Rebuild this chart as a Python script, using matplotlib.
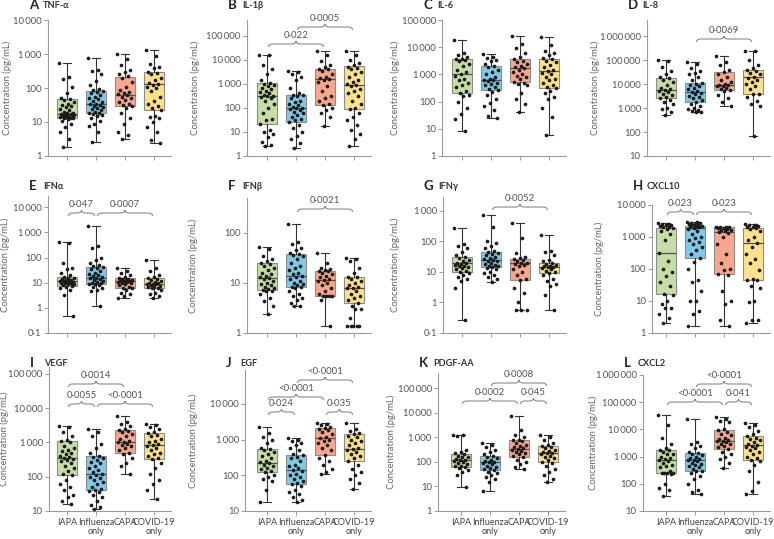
import matplotlib
matplotlib.use('Agg')
import matplotlib.pyplot as plt
import numpy as np
from matplotlib.path import Path
from matplotlib.patches import PathPatch
from matplotlib.ticker import FixedLocator, FuncFormatter, NullLocator

plt.rcParams['font.family'] = ['Lato', 'DejaVu Sans']

# ---------------- data ----------------
GROUPS = ['IAPA', 'Influenza\nonly', 'CAPA', 'COVID-19\nonly']
COLORS = ['#c6dea6', '#80cae8', '#f8a68c', '#fde28e']
LETTERS = ['A', 'B', 'C', 'D', 'E', 'F', 'G', 'H', 'I', 'J', 'K', 'L']
NAMES = ['TNF-α', 'IL-1β', 'IL-6', 'IL-8', 'IFNα', 'IFNβ', 'IFNγ', 'CXCL10',
         'VEGF', 'EGF', 'PDGF-AA', 'CXCL2']
YLABEL = 'Concentration (pg/mL)'

# box stats per group: [min, q1, median, q3, max]
TNF_BOX = [[1.8, 13, 17, 48, 540], [2.5, 18, 33, 83, 780], [3.1, 30, 62, 215, 1000], [2.4, 22, 130, 290, 1300]]
IL1B_BOX = [[2.7, 21, 316, 1070, 16000], [2.2, 27, 97, 330, 3300], [18, 134, 1600, 4100, 24000], [2.7, 91, 910, 5300, 24000]]
IL6_BOX = [[8.3, 200, 1030, 3600, 18000], [26, 270, 620, 2100, 5400], [40, 540, 1660, 3600, 26000], [5.9, 320, 1290, 3600, 24000]]
IL8_BOX = [[490, 2600, 5400, 18000, 96000], [660, 1780, 4600, 11000, 81000], [1180, 5500, 9400, 32000, 145000], [71, 3800, 20000, 40000, 250000]]
IFNA_BOX = [[0.47, 7.7, 12, 17, 400], [1.17, 8.6, 16, 43, 1850], [2.5, 5.9, 12, 15, 37], [2.5, 5.9, 9.3, 15, 78]]
IFNB_BOX = [[2.4, 7.2, 12.5, 25.5, 52], [3.4, 8.4, 14, 38, 150], [1.4, 5.6, 11.4, 17.4, 40], [1.4, 4.0, 8.1, 13.4, 32]]
IFNG_BOX = [[0.26, 10, 19, 31, 275], [4.8, 14, 24, 45, 750], [0.57, 5.6, 19, 26, 400], [0.57, 9.4, 14.5, 19, 155]]
CXCL10_BOX = [[2.05, 16.5, 310, 1970, 2700], [1.7, 217, 1900, 2200, 3000], [1.7, 71, 1400, 2000, 2100], [2.1, 46, 640, 1970, 2500]]
VEGF_BOX = [[15.6, 110, 350, 1070, 3100], [11.7, 42, 122, 415, 2500], [117, 500, 1020, 2350, 5900], [22, 320, 850, 1860, 3500]]
EGF_BOX = [[18, 120, 215, 530, 2300], [18, 56, 140, 370, 1080], [112, 380, 1080, 2050, 3000], [42, 255, 560, 1400, 2850]]
PDGF_BOX = [[9.6, 63, 118, 200, 1240], [6.3, 46, 95, 177, 560], [49, 150, 320, 770, 7600], [14.5, 100, 235, 440, 1240]]
CXCL2_BOX = [[35, 245, 760, 1780, 35000], [43, 285, 720, 1340, 24000], [380, 1940, 3900, 9600, 28000], [43, 760, 2700, 5600, 17000]]

# individual patient values per group (pg/mL)
TNF_PTS = [
    [540, 210, 190, 110, 70, 52, 48, 45, 40, 35, 32, 30, 27, 24, 22, 20, 19, 18, 17, 17, 16, 16, 15, 15, 14, 14, 14, 13, 13, 13, 12, 11, 9, 7, 5, 3.2, 1.8],
    [780, 350, 320, 250, 160, 120, 95, 85, 82, 78, 72, 62, 55, 50, 46, 42, 38, 35, 33, 32, 30, 28, 26, 24, 22, 20, 19, 18, 17, 16, 15, 13, 11, 9, 7.5, 5, 2.5],
    [1000, 700, 480, 340, 300, 250, 220, 200, 150, 110, 85, 78, 70, 65, 62, 56, 50, 45, 40, 35, 32, 30, 25, 18, 13, 9, 5, 4.2, 3.1],
    [1300, 900, 520, 420, 380, 300, 285, 250, 200, 170, 140, 132, 125, 110, 100, 80, 55, 42, 33, 29, 26, 22, 15, 14, 13, 10, 7, 5, 3, 2.4]]
IL1B_PTS = [
    [16000, 15000, 6000, 4000, 2500, 1500, 1100, 1000, 900, 800, 700, 600, 500, 450, 400, 350, 316, 300, 280, 250, 200, 150, 100, 60, 35, 30, 21, 12, 10, 8, 6, 4, 3, 2.7],
    [3300, 3000, 2500, 2000, 1500, 700, 400, 350, 330, 300, 250, 200, 180, 150, 130, 110, 100, 97, 90, 80, 70, 60, 50, 40, 35, 30, 27, 20, 15, 10, 7, 5, 3.5, 2.2],
    [24000, 15000, 9000, 6000, 5000, 4200, 4000, 3500, 2500, 2000, 1700, 1600, 1400, 1200, 800, 500, 300, 250, 200, 150, 134, 100, 80, 60, 40, 18],
    [24000, 15000, 10000, 7000, 6000, 5000, 4500, 4000, 3000, 2500, 2000, 1500, 1200, 1000, 910, 800, 600, 500, 400, 300, 200, 150, 100, 91, 60, 40, 30, 20, 12, 8, 5, 2.7]]
IL6_PTS = [
    [18000, 6000, 5000, 4200, 3800, 3600, 3400, 3000, 2500, 2000, 1500, 1200, 1030, 900, 700, 600, 500, 400, 350, 250, 200, 180, 160, 100, 60, 35, 22, 8.3],
    [5400, 4500, 4000, 3500, 3000, 2500, 2100, 1800, 1500, 1200, 1000, 800, 700, 620, 600, 550, 500, 450, 400, 350, 300, 270, 220, 180, 130, 90, 70, 50, 30, 26],
    [26000, 13000, 9000, 6000, 4500, 3600, 3200, 2800, 2500, 2000, 1800, 1660, 1500, 1200, 1000, 900, 800, 650, 540, 500, 450, 400, 200, 120, 80, 40],
    [24000, 12000, 7000, 6000, 5000, 4000, 3600, 3200, 2800, 2200, 1800, 1500, 1290, 1100, 1000, 800, 700, 600, 500, 400, 350, 320, 250, 200, 150, 120, 60, 28, 5.9]]
IL8_PTS = [
    [96000, 90000, 50000, 35000, 25000, 20000, 18000, 15000, 12000, 9000, 7000, 6000, 5400, 5000, 4500, 4000, 3500, 3000, 2600, 2200, 1800, 1500, 1000, 900, 700, 490],
    [81000, 70000, 45000, 35000, 30000, 25000, 20000, 15000, 11000, 10000, 9000, 8000, 7000, 6000, 5000, 4600, 4200, 3800, 3300, 3000, 2500, 2200, 1780, 1500, 1200, 1000, 900, 800, 750, 700, 660],
    [145000, 80000, 60000, 40000, 32000, 25000, 20000, 15000, 12000, 10000, 9400, 9000, 8500, 8000, 7000, 6000, 5500, 5000, 3500, 2500, 1800, 1180],
    [250000, 240000, 100000, 60000, 45000, 40000, 35000, 30000, 25000, 20000, 18000, 15000, 12000, 10000, 8000, 6000, 4000, 3800, 3000, 2000, 1500, 1200, 71]]
IFNA_PTS = [
    [400, 380, 60, 40, 35, 25, 20, 17, 16, 15, 14, 13, 13, 12, 12, 12, 11, 11, 10, 10, 9.5, 9, 8.5, 8, 7.7, 7, 6, 5, 3.3, 0.47],
    [1850, 300, 250, 100, 80, 60, 50, 45, 43, 40, 35, 30, 25, 22, 20, 18, 17, 16, 15, 14, 13, 12, 11, 10, 10, 9, 8.6, 8, 7, 6, 5, 4.5, 1.17],
    [37, 30, 25, 20, 17, 15, 14, 14, 13, 13, 12, 12, 12, 11, 11, 10, 10, 9, 8, 7, 6, 5.9, 5, 4, 3.5, 3, 2.5],
    [78, 40, 30, 20, 17, 15, 14, 13, 12, 11, 10, 10, 9.3, 9, 8.5, 8, 7.5, 7, 6.5, 6, 5.9, 5, 4, 3.5, 3, 2.5]]
IFNB_PTS = [
    [52, 48, 35, 30, 28, 25.5, 24, 22, 20, 18, 16, 15, 14, 13, 12.5, 12, 11, 10, 9.5, 9, 8.5, 8, 7.5, 7.2, 7, 6.8, 6, 5, 4.3, 3.5, 2.4],
    [150, 65, 60, 50, 45, 40, 38, 36, 35, 30, 25, 22, 20, 18, 16, 15, 14, 13, 12, 11, 10, 9.5, 9, 8.5, 8.4, 8, 7, 6, 5.5, 5, 4.5, 4, 3.4, 3.4],
    [40, 25, 20, 19, 18, 17.4, 17, 16, 15, 14, 13, 12, 11.4, 11, 10, 9, 8, 7, 6, 5.6, 5.5, 5.5, 5.5, 4.5, 1.4],
    [32, 30, 28, 20, 16, 13.4, 13, 12, 11, 10, 9, 8.5, 8.1, 8, 7, 6, 5.5, 5, 4.5, 4.0, 3.5, 3, 3, 2, 1.4, 1.4, 1.4, 1.4, 1.4]]
IFNG_PTS = [
    [275, 80, 70, 60, 45, 35, 31, 28, 25, 22, 20, 19, 18, 17, 16, 15, 14, 13, 12, 11, 10, 9, 8, 7, 6, 5, 3, 0.26],
    [750, 300, 100, 85, 70, 60, 50, 45, 42, 38, 35, 30, 28, 26, 24, 23, 22, 20, 18, 17, 16, 15, 14, 13, 12, 10, 9, 8, 7, 6, 4.8],
    [400, 130, 40, 30, 28, 26, 25, 22, 20, 19, 18, 17, 15, 12, 10, 8, 6, 5.6, 3, 2, 1, 0.57, 0.57, 0.57],
    [155, 50, 45, 35, 25, 22, 19, 18, 17, 16, 15, 14.5, 14, 13, 12, 11, 10, 9.4, 8, 6, 5, 4, 3.5, 1.7, 0.57]]
CXCL10_PTS = [
    [2700, 2600, 2500, 2400, 2300, 2200, 2100, 2000, 1900, 1800, 1500, 1200, 800, 310, 180, 100, 80, 60, 40, 30, 16.5, 15, 10, 8, 6, 6, 4, 3, 2.05],
    [3000, 2900, 2800, 2700, 2600, 2500, 2400, 2300, 2200, 2100, 2000, 2000, 1900, 1800, 1500, 1200, 1000, 900, 800, 700, 600, 500, 400, 300, 217, 170, 100, 45, 40, 20, 10, 10, 5, 3.8, 1.7],
    [2100, 2050, 2000, 2000, 1950, 1900, 1800, 1700, 1600, 1500, 1400, 1300, 1000, 600, 300, 150, 100, 95, 71, 65, 20, 10, 8, 2.5, 1.7],
    [2500, 2400, 2300, 2200, 2100, 2000, 1900, 1800, 1500, 1000, 800, 640, 500, 300, 200, 150, 90, 50, 46, 45, 30, 25, 10, 9, 2.5, 2.5, 2.1]]
VEGF_PTS = [
    [3100, 2800, 2000, 1500, 1200, 1070, 1000, 800, 700, 600, 550, 500, 450, 400, 380, 350, 330, 300, 280, 250, 200, 180, 150, 120, 110, 80, 60, 50, 40, 30, 25, 20, 15.6],
    [2500, 2000, 1500, 900, 700, 500, 415, 380, 350, 300, 270, 250, 200, 180, 160, 140, 122, 110, 100, 90, 80, 70, 60, 50, 45, 42, 38, 35, 30, 25, 20, 15, 13, 11.7],
    [5900, 4000, 3500, 3000, 2500, 2350, 2200, 2000, 1800, 1500, 1300, 1100, 1020, 1000, 900, 850, 800, 700, 600, 500, 450, 350, 250, 200, 117],
    [3500, 3200, 2800, 2500, 2000, 1860, 1700, 1500, 1300, 1100, 1000, 900, 850, 800, 700, 600, 500, 450, 400, 350, 320, 250, 180, 120, 80, 60, 40, 22]]
EGF_PTS = [
    [2300, 1500, 1200, 1000, 800, 600, 530, 500, 450, 400, 350, 300, 250, 230, 215, 200, 180, 160, 150, 130, 120, 100, 90, 80, 70, 40, 18],
    [1080, 1000, 900, 800, 700, 600, 500, 400, 370, 330, 300, 250, 200, 180, 160, 140, 130, 110, 100, 90, 80, 70, 60, 56, 50, 40, 35, 30, 25, 20, 18],
    [3000, 2800, 2500, 2200, 2050, 2000, 1800, 1600, 1400, 1200, 1080, 1000, 900, 800, 700, 600, 500, 380, 300, 250, 200, 150, 120, 112],
    [2850, 2000, 1700, 1500, 1400, 1300, 1200, 1000, 900, 800, 700, 600, 560, 500, 450, 400, 350, 300, 255, 200, 150, 120, 100, 80, 60, 42]]
PDGF_PTS = [
    [1240, 1200, 1100, 300, 250, 220, 200, 180, 160, 150, 130, 120, 118, 110, 100, 90, 80, 70, 65, 63, 55, 45, 40, 30, 9.6],
    [560, 500, 400, 300, 250, 200, 177, 160, 140, 120, 110, 100, 95, 90, 80, 70, 60, 55, 50, 46, 40, 35, 30, 25, 20, 15, 6.3],
    [7600, 2000, 1200, 1000, 800, 770, 700, 600, 500, 450, 400, 350, 320, 300, 280, 250, 220, 200, 180, 150, 120, 100, 80, 60, 49],
    [1240, 1000, 800, 600, 500, 440, 400, 350, 300, 270, 250, 235, 220, 200, 180, 160, 140, 120, 100, 90, 70, 50, 40, 30, 20, 14.5]]
CXCL2_PTS = [
    [35000, 15000, 5000, 3000, 2000, 1800, 1780, 1500, 1300, 1200, 1000, 900, 800, 760, 700, 600, 500, 450, 400, 300, 260, 250, 245, 240, 230, 100, 70, 60, 35],
    [24000, 3500, 3000, 2500, 2000, 1500, 1340, 1200, 1100, 1000, 900, 800, 750, 720, 700, 600, 550, 500, 450, 400, 350, 300, 285, 250, 200, 150, 100, 60, 50, 43],
    [28000, 25000, 20000, 18000, 10000, 9600, 8000, 7000, 6000, 5000, 4500, 4000, 3900, 3700, 3500, 3000, 2800, 2500, 2200, 1940, 1500, 1200, 1000, 800, 600, 380],
    [17000, 15000, 12000, 9000, 7000, 5600, 5000, 4500, 4000, 3500, 3000, 2700, 2500, 2200, 2000, 1800, 1500, 1200, 1000, 900, 760, 700, 500, 300, 120, 55, 43]]

# significance: (group a, group b, p-value label)
TNF_P = []
IL1B_P = [(0, 2, '0·022'), (1, 3, '0·0005')]
IL6_P = []
IL8_P = [(1, 3, '0·0069')]
IFNA_P = [(0, 1, '0·047'), (1, 3, '0·0007')]
IFNB_P = [(1, 3, '0·0021')]
IFNG_P = [(1, 3, '0·0052')]
CXCL10_P = [(0, 1, '0·023'), (1, 3, '0·023')]
VEGF_P = [(0, 2, '0·0014'), (0, 1, '0·0055'), (1, 3, '<0·0001')]
EGF_P = [(1, 3, '<0·0001'), (0, 2, '<0·0001'), (0, 1, '0·024'), (2, 3, '0·035')]
PDGF_P = [(1, 3, '0·0008'), (0, 2, '0·0002'), (2, 3, '0·045')]
CXCL2_P = [(1, 3, '<0·0001'), (0, 2, '<0·0001'), (2, 3, '0·041')]

BOXES = [TNF_BOX, IL1B_BOX, IL6_BOX, IL8_BOX, IFNA_BOX, IFNB_BOX, IFNG_BOX, CXCL10_BOX,
         VEGF_BOX, EGF_BOX, PDGF_BOX, CXCL2_BOX]
POINTS = [TNF_PTS, IL1B_PTS, IL6_PTS, IL8_PTS, IFNA_PTS, IFNB_PTS, IFNG_PTS, CXCL10_PTS,
          VEGF_PTS, EGF_PTS, PDGF_PTS, CXCL2_PTS]
PVALS = [TNF_P, IL1B_P, IL6_P, IL8_P, IFNA_P, IFNB_P, IFNG_P, CXCL10_P,
         VEGF_P, EGF_P, PDGF_P, CXCL2_P]

# ---------------- layout (pixels) ----------------
FW, FH = 774, 539
SP = 29.0
# (axes left px, first tick px, axes top px, axes bottom px)
LAYOUT = [(48, 67, 20, 156), (247, 267, 20, 156), (442, 462, 20, 156), (647, 666, 20, 156),
          (48, 67, 196, 333), (247, 267, 198, 333), (443, 462, 197, 333), (652, 666, 205, 333),
          (49, 67, 367, 511), (245, 267, 370, 511), (438, 461, 373, 511), (643, 666, 375, 511)]
YLIMS = [(1, 1e4), (1, 10**5.65), (1, 1e5), (10, 10**6.67),
         (0.1, 10**4.45), (1, 10**2.7), (0.1, 10**3.45), (1, 1e4),
         (10, 10**5.2), (10, 10**4.95), (1, 10**5.61), (10, 1e6)]
# y-label centre x (px)
YLABEL_X = [8, 195, 395, 596, 6, 194, 396, 599, 5, 193, 391, 593]
# bracket main-line y (px from top) for each bracket of each panel
BRACKET_Y = [[], [44, 27], [], [39],
             [213, 213], [209], [207], [212, 212],
             [384, 404, 404], [380, 397, 412, 412], [383, 401, 401], [384, 402, 402]]
TITLE_Y = [5, 5, 5, 5, 186, 186, 186, 186, 363, 363, 363, 363]

AXC = '#9a9a9a'
TXT = '#555555'


def fmt_tick(v, pos=None):
    if v < 1:
        return ('%g' % v).replace('.', '·')
    s = '{:,}'.format(int(round(v)))
    return s.replace(',', '\u2009')


def draw_brace(ax, g1, g2, ypx, label, axh, axw, axbottom):
    x0, x1 = ax.get_xlim()
    a = (g1 + 0.05 - x0) / (x1 - x0)
    b = (g2 - 0.05 - x0) / (x1 - x0)
    m = (a + b) / 2
    yf = (axbottom - ypx) / axh
    h = 3.0 / axh
    d = 4.5 / axw
    verts = [(a, yf - h), (a, yf), (a + d, yf), (m - d, yf), (m, yf), (m, yf + h),
             (m, yf), (m + d, yf), (b - d, yf), (b, yf), (b, yf - h)]
    codes = [Path.MOVETO, Path.CURVE3, Path.CURVE3, Path.LINETO, Path.CURVE3, Path.CURVE3,
             Path.CURVE3, Path.CURVE3, Path.LINETO, Path.CURVE3, Path.CURVE3]
    patch = PathPatch(Path(verts, codes), facecolor='none', edgecolor='#8a8a8a', lw=0.8,
                      transform=ax.transAxes, clip_on=False, zorder=5)
    ax.add_patch(patch)
    ax.text(m, yf + h + 1.0 / axh, label, transform=ax.transAxes, ha='center', va='bottom',
            fontsize=7, color=TXT, clip_on=False)


fig = plt.figure(figsize=(FW / 100, FH / 100), dpi=100)
fig.patch.set_facecolor('white')

for k in range(12):
    left, tick0, top, bottom = LAYOUT[k]
    right = tick0 + 3 * SP + 17
    axw = right - left
    axh = bottom - top
    ax = fig.add_axes([left / FW, 1 - bottom / FH, axw / FW, axh / FH])
    ax.set_xlim(-(tick0 - left) / SP, 3 + 17 / SP)
    ax.set_yscale('log')
    lo, hi = YLIMS[k]
    ax.set_ylim(lo, hi)
    decs = [10.0 ** e for e in range(int(np.ceil(np.log10(lo) - 1e-9)), int(np.floor(np.log10(hi) + 1e-9)) + 1)]
    ax.yaxis.set_major_locator(FixedLocator(decs))
    ax.yaxis.set_minor_locator(NullLocator())
    ax.yaxis.set_major_formatter(FuncFormatter(fmt_tick))

    stats = []
    for g in range(4):
        mn, q1, md, q3, mx = BOXES[k][g]
        stats.append(dict(whislo=mn, q1=q1, med=md, q3=q3, whishi=mx, fliers=[]))
    bp = ax.bxp(stats, positions=[0, 1, 2, 3], widths=0.68, patch_artist=True,
                showfliers=False, capwidths=0.3, manage_ticks=False,
                boxprops=dict(edgecolor='#8c8c8c', lw=0.8),
                whiskerprops=dict(color='#333333', lw=0.8),
                capprops=dict(color='#333333', lw=0.8),
                medianprops=dict(color='#505050', lw=0.9))
    for g, patch in enumerate(bp['boxes']):
        patch.set_facecolor(COLORS[g])
        patch.set_zorder(2)

    for g in range(4):
        vals = np.array(POINTS[k][g], dtype=float)
        n = len(vals)
        offs = ((np.arange(n) * 0.618034) % 1.0 - 0.5) * 0.52
        ax.scatter(g + offs, vals, s=7, c='#1a1a1a', linewidths=0, zorder=3)

    for sp in ['top', 'right']:
        ax.spines[sp].set_visible(False)
    for sp in ['left', 'bottom']:
        ax.spines[sp].set_color(AXC)
        ax.spines[sp].set_linewidth(0.8)
    ax.tick_params(axis='both', which='major', length=3, width=0.7, color=AXC,
                   labelsize=6.8, labelcolor=TXT, pad=1.5)
    ax.set_xticks([0, 1, 2, 3])
    if k >= 8:
        ax.set_xticklabels(GROUPS, fontsize=6.5, color='#444444', linespacing=1.05)
        ax.tick_params(axis='x', pad=2)
    else:
        ax.set_xticklabels([])
    ax.set_ylabel(YLABEL, fontsize=6.8, color='#666666')
    ax.yaxis.set_label_coords((YLABEL_X[k] + 4.5 - left) / axw, 0.5)

    for (g1, g2, lab), ypx in zip(PVALS[k], BRACKET_Y[k]):
        draw_brace(ax, g1, g2, ypx, lab, axh, axw, bottom)

    fig.text((left - 19) / FW, 1 - TITLE_Y[k] / FH, LETTERS[k], fontsize=9.5, fontweight='bold',
             color='#222222', ha='left', va='center')
    fig.text((left - 5) / FW, 1 - (TITLE_Y[k] + 1) / FH, NAMES[k], fontsize=6.6, fontweight='bold',
             color='#333333', ha='left', va='center')

fig.savefig('out.png', dpi=100, facecolor='white')
